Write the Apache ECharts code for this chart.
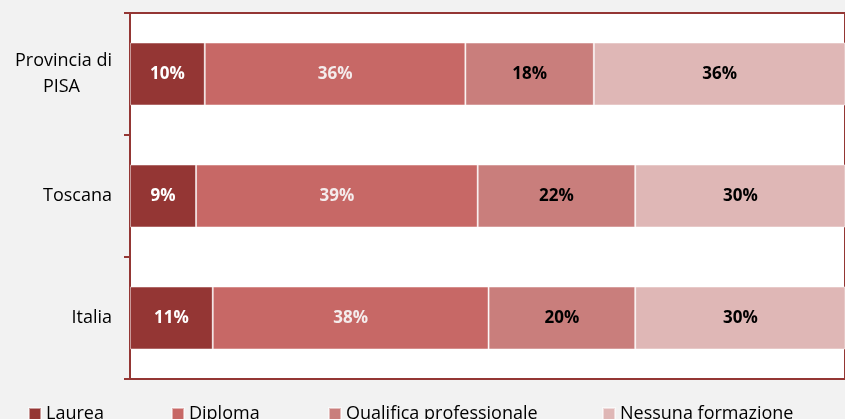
<!DOCTYPE html>
<html><head><meta charset="utf-8">
<script src="https://cdn.jsdelivr.net/npm/echarts@6/dist/echarts.min.js"></script>
<style>html,body{margin:0;padding:0;background:#F2F2F2;}#c{width:845px;height:419px;}</style>
</head><body><div id="c"></div>
<script>
const categories = ['Provincia di PISA', 'Toscana', 'Italia'];
const seriesNames = ['Laurea', 'Diploma', 'Qualifica professionale', 'Nessuna formazione'];
const laurea = [10.3, 9.1, 11.4];
const diploma = [35.9, 38.8, 38.0];
const qualifica = [17.7, 21.7, 20.2];
const nessuna = [36.1, 30.4, 30.4];
const colors = ['#943634', '#C76866', '#C97E7C', '#DFB7B6'];
const labelColors = ['#ffffff', '#f4ecec', '#000000', '#000000'];
const values = [laurea, diploma, qualifica, nessuna];
const font = '"Open Sans", "Noto Sans", sans-serif';
const legendLeft = [23, 166, 323, 597];

const chart = echarts.init(document.getElementById('c'));
chart.setOption({
  backgroundColor: '#F2F2F2',
  animation: false,
  grid: {left: 130, top: 13, width: 716, height: 366, show: true, backgroundColor: '#ffffff',
         borderColor: '#943634', borderWidth: 2},
  xAxis: {type: 'value', min: 0, max: 98.5, show: false},
  yAxis: {type: 'category', data: categories, inverse: true,
    axisLine: {show: true, lineStyle: {color: '#943634', width: 2}},
    axisTick: {show: true, length: 6, lineStyle: {color: '#943634', width: 2}},
    axisLabel: {margin: 18, color: '#000', fontSize: 18, fontFamily: font, lineHeight: 26,
      formatter: v => v === 'Provincia di PISA' ? 'Provincia di\n{p|PISA}' : v,
      rich: {p: {fontSize: 18, fontFamily: font, color: '#000', padding: [0, 32, 0, 0], lineHeight: 26}}},
    splitLine: {show: false}},
  legend: seriesNames.map((n, i) => ({
    data: [n], left: legendLeft[i], top: 400, itemWidth: 12, itemHeight: 12, itemGap: 6,
    icon: 'rect', textStyle: {fontSize: 18, fontFamily: font, color: '#000', padding: [0, 0, 0, 0]}
  })),
  series: seriesNames.map((n, i) => ({
    name: n, type: 'bar', stack: 'tot', data: values[i], barWidth: 63,
    itemStyle: {color: colors[i], borderColor: 'rgba(255,255,255,0.5)', borderWidth: 1},
    label: {show: true, position: 'inside', color: labelColors[i], fontWeight: 'bold', fontSize: 17,
      fontFamily: font, formatter: p => Math.round(p.value) + '%'}
  }))
});
</script></body></html>
